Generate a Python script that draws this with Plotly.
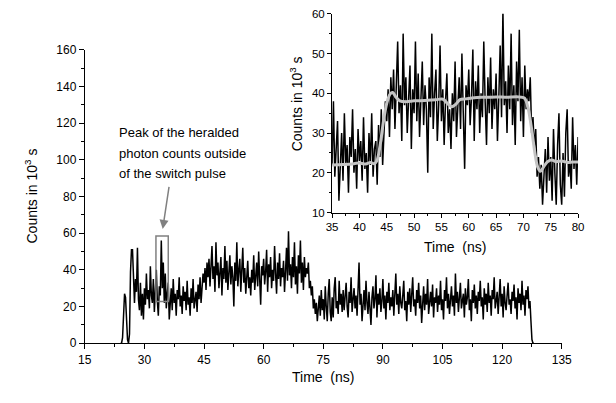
import numpy as np
import plotly.graph_objects as go

# ---------------- data (counts in 10^3 s, bins of 0.25 ns starting at 24.0 ns) ----------------
t_start = 24.0
bin_ns = 0.25

counts_onset = [0, 0, 3, 20, 27, 25, 12, 2, 0, 5, 39, 51]          # 24.0 .. 26.75
counts_pre = [51, 30, 22, 35, 28, 52, 24, 18, 33, 15, 27, 13,        # 27.0 .. 44.75
              30, 21, 38, 24, 29, 19, 42, 26, 22, 35, 17, 28,
              40, 23, 15, 31, 26, 56, 30, 44, 22, 38, 19, 27,
              33, 13, 24, 30, 18, 35, 22, 27, 15, 29, 24, 36,
              20, 26, 16, 31, 23, 28, 18, 34, 21, 25, 15, 30,
              22, 35, 19, 26, 28, 17, 32, 24, 36, 22, 30, 38]
counts_pulse = [33, 41, 29, 44, 36, 46, 31, 40, 53, 35, 42, 28,      # 45.0 .. 70.75
                55, 37, 44, 30, 39, 47, 26, 41, 35, 53, 33, 45,
                29, 38, 48, 32, 42, 36, 20, 44, 34, 55, 31, 40,
                46, 28, 37, 52, 33, 41, 27, 38, 45, 30, 36, 26,
                40, 33, 48, 29, 38, 44, 31, 50, 35, 21, 42, 37,
                46, 32, 39, 51, 28, 43, 36, 47, 30, 40, 34, 53,
                38, 27, 44, 35, 49, 31, 41, 36, 45, 28, 39, 52,
                34, 61, 37, 43, 30, 47, 36, 55, 32, 42, 27, 48,
                38, 56, 33, 44, 29, 47, 36, 41]
counts_drop = [38, 44, 30, 34, 26, 31, 19, 24, 16, 22, 12, 20]      # 71.0 .. 73.75
counts_post_a = [26, 15, 29, 18, 24, 13, 31, 20, 12, 27, 35, 17,    # 74.0 .. 80.0
                 12, 25, 14, 30, 36, 19, 23, 16, 34, 21, 27, 17, 29]
counts_post_b = [18, 25, 33, 20, 14, 28, 22, 36, 17, 24, 30, 19,    # 80.25 .. 127.0
                 26, 15, 32, 44, 21, 27, 12, 23, 29, 18, 34, 22,
                 16, 28, 20, 10, 25, 31, 19, 24, 37, 14, 27, 21,
                 30, 17, 23, 35, 19, 26, 13, 28, 22, 33, 18, 25,
                 20, 29, 15, 24, 38, 21, 27, 16, 31, 22, 19, 26,
                 34, 18, 23, 12, 28, 21, 30, 17, 25, 36, 20, 24,
                 15, 29, 22, 33, 19, 26, 11, 24, 31, 18, 27, 21,
                 35, 16, 23, 28, 20, 32, 14, 25, 22, 30, 17, 26,
                 21, 34, 18, 24, 13, 29, 23, 36, 19, 27, 16, 25,
                 31, 20, 26, 15, 38, 22, 28, 17, 24, 33, 19, 23,
                 27, 14, 30, 21, 25, 35, 18, 24, 12, 29, 22, 32,
                 19, 26, 16, 28, 23, 34, 20, 25, 13, 30, 21, 27,
                 17, 33, 22, 26, 15, 29, 24, 36, 19, 23, 28, 16,
                 25, 35, 20, 27, 14, 31, 22, 18, 26, 33, 21, 24,
                 16, 28, 23, 32, 19, 25, 13, 30, 22, 27, 18, 34,
                 21, 26, 15, 29, 24, 31, 19, 23]
counts_end = [12, 2, 0, 0]                                          # 127.25 .. 128.0

# smoothed curve shown in the inset (grey)
smooth_t = [35, 37, 39, 40, 41, 42, 42.7, 43.2, 43.8, 44.4, 45.0, 45.6, 46.1, 46.7,
            47.4, 48.5, 50, 52, 54, 55.3, 56.2, 56.9, 57.6, 58.4, 59.5, 61, 63, 65,
            67, 69, 70.2, 70.9, 71.5, 72.1, 72.6, 73.1, 73.7, 74.4, 75.2, 76, 77, 78, 79, 80]
smooth_v = [22.0, 22.1, 22.3, 22.5, 22.2, 22.6, 22.3, 23.0, 27.0, 33.0, 37.5, 39.8, 40.2, 39.0,
            38.1, 37.9, 38.1, 38.2, 38.4, 38.5, 37.3, 36.6, 37.2, 38.4, 38.6, 38.9, 39.0, 39.1,
            39.0, 39.1, 38.8, 36.0, 31.0, 25.0, 21.5, 20.4, 21.5, 22.8, 23.2, 22.8, 23.0, 22.6, 22.7, 22.7]

main_xticks = [15, 30, 45, 60, 75, 90, 105, 120, 135]
main_yticks = [0, 20, 40, 60, 80, 100, 120, 140, 160]
inset_xticks = [35, 40, 45, 50, 55, 60, 65, 70, 75, 80]
inset_yticks = [10, 20, 30, 40, 50, 60]

counts = np.array(counts_onset + counts_pre + counts_pulse + counts_drop
                  + counts_post_a + counts_post_b + counts_end, dtype=float)
times = t_start + bin_ns * np.arange(len(counts))

# ---------------- figure ----------------
W, H = 616, 403
FONT = "Liberation Sans, Arial, sans-serif"

def px(x):
    return x / W

def py(y):
    return 1 - y / H

fig = go.Figure()
fig.add_trace(go.Scatter(x=times, y=counts, mode="lines",
                         line=dict(color="black", width=1.5), xaxis="x", yaxis="y",
                         showlegend=False, hoverinfo="skip"))
mask = (times >= 35) & (times <= 80)
fig.add_trace(go.Scatter(x=times[mask], y=counts[mask], mode="lines",
                         line=dict(color="black", width=1.5), xaxis="x2", yaxis="y2",
                         showlegend=False, hoverinfo="skip"))
fig.add_trace(go.Scatter(x=smooth_t, y=smooth_v, mode="lines",
                         line=dict(color="#c4c4c4", width=3, shape="spline", smoothing=0.8),
                         xaxis="x2", yaxis="y2", showlegend=False, hoverinfo="skip"))

axis_common = dict(showgrid=False, zeroline=False, showline=True, linecolor="black",
                   linewidth=1, ticks="outside", tickcolor="black", mirror=False,
                   tickfont=dict(family=FONT, size=12, color="black"))

fig.update_layout(
    width=W, height=H, margin=dict(l=0, r=0, t=0, b=0), autosize=False,
    paper_bgcolor="white", plot_bgcolor="rgba(0,0,0,0)",
    xaxis=dict(**axis_common, domain=[px(80), px(570.5)], range=[15, 135],
               tickvals=main_xticks, ticklen=5,
               minor=dict(ticks="outside", dtick=7.5, tick0=15, ticklen=3, tickcolor="black"),
               anchor="y"),
    yaxis=dict(**axis_common, domain=[py(348.3), py(44.3)], range=[0, 160],
               tickvals=main_yticks, ticklen=5,
               minor=dict(ticks="outside", dtick=10, tick0=0, ticklen=3, tickcolor="black"),
               anchor="x"),
    xaxis2=dict(**axis_common, domain=[px(334.3), px(587.3)], range=[35, 80],
                tickvals=inset_xticks, ticklen=4,
                minor=dict(ticks="outside", dtick=2.5, tick0=35, ticklen=2, tickcolor="black"),
                anchor="y2"),
    yaxis2=dict(**axis_common, domain=[py(213), py(7)], range=[10, 60],
                tickvals=inset_yticks, ticklen=4,
                minor=dict(ticks="outside", dtick=5, tick0=10, ticklen=2, tickcolor="black"),
                anchor="x2"),
)
fig.layout.xaxis2.tickfont.size = 11.5
fig.layout.yaxis2.tickfont.size = 11.5

title_font = dict(family=FONT, size=14, color="black")
ann = [
    dict(text="Time  (ns)", x=px(325), y=py(383), xref="paper", yref="paper",
         showarrow=False, font=title_font, xanchor="center", yanchor="middle"),
    dict(text="Counts in 10<sup>3</sup> s", x=px(25), y=py(196), xref="paper", yref="paper",
         showarrow=False, font=title_font, textangle=-90, xanchor="center", yanchor="middle"),
    dict(text="Time  (ns)", x=px(461), y=py(249), xref="paper", yref="paper",
         showarrow=False, font=title_font, xanchor="center", yanchor="middle"),
    dict(text="Counts in 10<sup>3</sup> s", x=px(297), y=py(100), xref="paper", yref="paper",
         showarrow=False, font=title_font, textangle=-90, xanchor="center", yanchor="middle"),
]
for i, line in enumerate(["Peak of the heralded", "photon counts outside", "of the switch pulse"]):
    ann.append(dict(text=line, x=px(113), y=py(130 + 21.5 * i), xref="paper", yref="paper",
                    showarrow=False, font=dict(family=FONT, size=13, color="black"),
                    xanchor="left", yanchor="middle"))
# arrow pointing to the box
ann.append(dict(text="", x=34.6, y=62.3, xref="x", yref="y", ax=36.25, ay=86,
                axref="x", ayref="y", showarrow=True, arrowhead=2, arrowsize=1.2,
                arrowwidth=1.5, arrowcolor="#808080"))
fig.update_layout(annotations=ann)

fig.add_shape(type="rect", xref="x", yref="y", x0=32.9, x1=36.0, y0=22.8, y1=58.5,
              line=dict(color="#808080", width=1.5), fillcolor="rgba(0,0,0,0)")

fig.write_html("out.html", config={"displayModeBar": False},
               post_script="document.body.style.margin='0';document.body.style.padding='0';"
                           "document.body.style.overflow='hidden';")
